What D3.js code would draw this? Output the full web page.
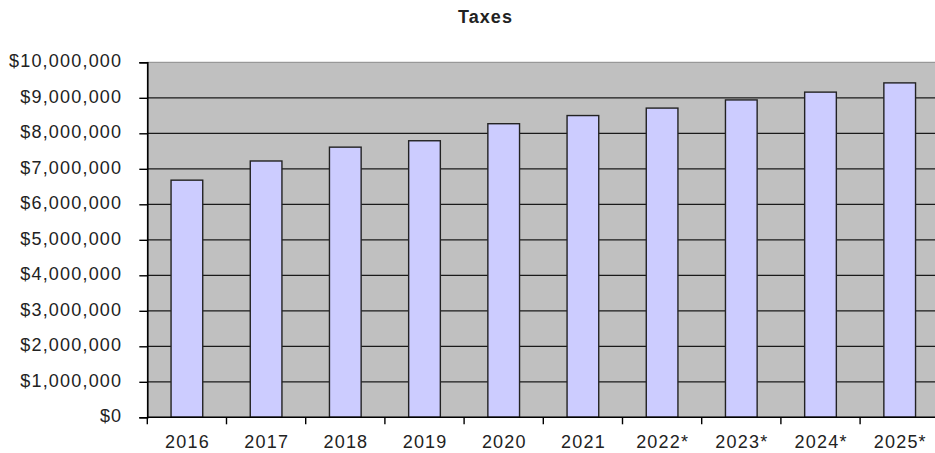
<!DOCTYPE html>
<html>
<head>
<meta charset="utf-8">
<script src="https://cdn.jsdelivr.net/npm/d3@7"></script>
<style>
  html, body { margin: 0; padding: 0; background: #fff; }
  svg { display: block; }
  text { font-family: "Liberation Sans", Arial, sans-serif; fill: #222; }
</style>
</head>
<body>
<svg id="chart" width="935" height="453"></svg>
<script>
// Tax revenue by year (starred years are projections)
const years = ["2016", "2017", "2018", "2019", "2020", "2021", "2022*", "2023*", "2024*", "2025*"];
const taxes = [6680000, 7220000, 7610000, 7790000, 8270000, 8500000, 8710000, 8940000, 9160000, 9420000];
const yTicks = [0, 1000000, 2000000, 3000000, 4000000, 5000000, 6000000, 7000000, 8000000, 9000000, 10000000];
const title = "Taxes";

const svg = d3.select("#chart");
const plot = { left: 147.3, right: 939.3, top: 62.3, bottom: 417.3 };

const x = d3.scaleBand()
  .domain(years)
  .range([plot.left, plot.right])
  .paddingInner(0.6)
  .paddingOuter(0.3);

const y = d3.scaleLinear()
  .domain([0, 10000000])
  .range([plot.bottom, plot.top]);

const fmt = v => "$" + d3.format(",")(v);

// plot background
svg.append("rect")
  .attr("x", plot.left).attr("y", plot.top)
  .attr("width", plot.right - plot.left).attr("height", plot.bottom - plot.top)
  .attr("fill", "#c0c0c0")
  .attr("stroke", "#8a8a8a").attr("stroke-width", 1);

// horizontal gridlines
svg.append("g")
  .selectAll("line")
  .data(yTicks.filter(d => d > 0 && d < 10000000))
  .join("line")
  .attr("x1", plot.left).attr("x2", plot.right)
  .attr("y1", d => y(d)).attr("y2", d => y(d))
  .attr("stroke", "#1a1a1a").attr("stroke-width", 1.2);

// bars
svg.append("g")
  .selectAll("rect")
  .data(years.map((yr, i) => ({ yr, v: taxes[i] })))
  .join("rect")
  .attr("x", d => x(d.yr))
  .attr("y", d => y(d.v))
  .attr("width", x.bandwidth())
  .attr("height", d => y(0) - y(d.v))
  .attr("fill", "#ccccff")
  .attr("stroke", "#222").attr("stroke-width", 1.4);

// y axis
const yAxis = d3.axisLeft(y)
  .tickValues(yTicks)
  .tickFormat(fmt)
  .tickSize(8)
  .tickPadding(17);

const gy = svg.append("g")
  .attr("transform", `translate(${plot.left},0)`)
  .call(yAxis);
gy.select(".domain").attr("stroke", "#000").attr("stroke-width", 1.6);
gy.selectAll(".tick line").attr("stroke", "#000").attr("stroke-width", 1.4);
gy.selectAll(".tick text")
  .attr("font-size", 18)
  .attr("letter-spacing", "1.2px")
  .attr("fill", "#222")
  .attr("dy", "0.26em");

// x axis: ticks at category boundaries, labels centered in each category
const step = x.step();
const bounds = d3.range(years.length + 1).map(i => plot.left + i * step);

const gx = svg.append("g");
gx.append("line")
  .attr("x1", plot.left).attr("x2", plot.right)
  .attr("y1", plot.bottom).attr("y2", plot.bottom)
  .attr("stroke", "#000").attr("stroke-width", 1.6);
gx.selectAll("line.tk")
  .data(bounds)
  .join("line")
  .attr("class", "tk")
  .attr("x1", d => d).attr("x2", d => d)
  .attr("y1", plot.bottom).attr("y2", plot.bottom + 7)
  .attr("stroke", "#000").attr("stroke-width", 1.4);
gx.selectAll("text")
  .data(years)
  .join("text")
  .attr("x", d => x(d) + x.bandwidth() / 2 + 0.6)
  .attr("y", 447.7)
  .attr("text-anchor", "middle")
  .attr("font-size", 18)
  .attr("letter-spacing", "1.2px")
  .text(d => d);

// title
svg.append("text")
  .attr("x", 485.5)
  .attr("y", 23)
  .attr("text-anchor", "middle")
  .attr("font-size", 18)
  .attr("font-weight", "bold")
  .attr("letter-spacing", "1.1px")
  .text(title);
</script>
</body>
</html>
